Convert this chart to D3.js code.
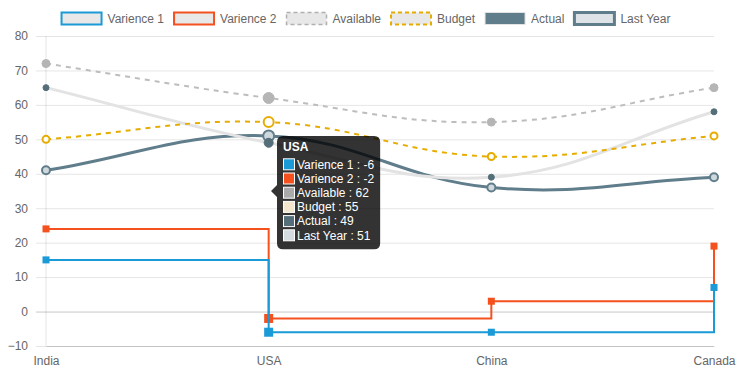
<!DOCTYPE html>
<html>
<head>
<meta charset="utf-8">
<script src="https://cdn.jsdelivr.net/npm/d3@7"></script>
<style>
  html, body { margin: 0; padding: 0; background: #fff; }
  svg { display: block; font-family: "Helvetica Neue", Helvetica, Arial, "Liberation Sans", sans-serif; }
</style>
</head>
<body>
<svg id="chart" width="742" height="374"></svg>
<script>
// ---------- data ----------
const categories = ["India", "USA", "China", "Canada"];
const varience1 = [15, -6, -6, 7];
const varience2 = [24, -2, 3, 19];
const available = [72, 62, 55, 65];
const budget = [50, 55, 45, 51];
const actual = [65, 49, 39, 58];
const lastYear = [41, 51, 36, 39];
const yTicks = [-10, 0, 10, 20, 30, 40, 50, 60, 70, 80];
const hoverIndex = 1; // USA

// ---------- series definitions (styles) ----------
const series = [
  { name: "Varience 1", values: varience1, line: "#1a9ad6", width: 2, step: true, point: "rect",
    pFill: "#1a9ad6", pStroke: "#1a9ad6", legFill: "#e8e8e8", legStroke: "#1a9ad6", legW: 2,
    tipFill: "#1a9ad6", tipStroke: "#ffffff" },
  { name: "Varience 2", values: varience2, line: "#f4511e", width: 2, step: true, point: "rect",
    pFill: "#f4511e", pStroke: "#f4511e", legFill: "#e8e8e8", legStroke: "#f4511e", legW: 2,
    tipFill: "#f4511e", tipStroke: "#ffffff" },
  { name: "Available", values: available, line: "#bdbdbd", width: 2, dash: "5,5", point: "circle", r: 4, rh: 5.5,
    pFill: "#b5b5b5", pStroke: "#b5b5b5", pW: 1, legFill: "#e8e8e8", legStroke: "#b0b0b0", legW: 1.5, legDash: "4,3",
    tipFill: "#aaaaaa", tipStroke: "#ffffff" },
  { name: "Budget", values: budget, line: "#e6ad00", width: 2, dash: "5,5", point: "circle", r: 3.5, rh: 5,
    pFill: "#ffffff", pStroke: "#e6ad00", pW: 2, legFill: "#e8e8e8", legStroke: "#e6ad00", legW: 2, legDash: "4,3",
    tipFill: "#f2e6cc", tipStroke: "#ffffff" },
  { name: "Actual", values: actual, line: "#e3e3e3", width: 3, point: "circle", r: 3, rh: 4.5,
    pFill: "#546e7a", pStroke: "#546e7a", pW: 1, legFill: "#607d8b", legStroke: "#e3e3e3", legW: 1,
    tipFill: "#546e7a", tipStroke: "#ffffff" },
  { name: "Last Year", values: lastYear, line: "#607d8b", width: 3, point: "circle", r: 4, rh: 5.5,
    pFill: "#cfd8dc", pStroke: "#607d8b", pW: 2, legFill: "#dde3e7", legStroke: "#607d8b", legW: 3,
    tipFill: "#d5dce0", tipStroke: "#ffffff" }
];

// ---------- layout ----------
const svg = d3.select("#chart");
const W = 742, H = 374;
const pL = 46, pR = 714, pT = 36, pB = 346;

const x = d3.scalePoint().domain(categories).range([pL, pR]);
const y = d3.scaleLinear().domain([-10, 80]).range([pB, pT]);

// ---------- y grid + labels ----------
const yAxis = svg.append("g")
  .attr("transform", `translate(${pL - 10},0)`)
  .call(d3.axisLeft(y).tickValues(yTicks).tickSize(-(pR - pL + 10)).tickPadding(8).tickFormat(d3.format("d")));
yAxis.select(".domain").remove();
yAxis.selectAll(".tick line").attr("stroke", d => d === 0 ? "rgba(0,0,0,0.22)" : "rgba(0,0,0,0.1)").attr("stroke-width", 1);
yAxis.selectAll(".tick text").attr("fill", "#666").attr("font-size", 12);

// y axis border line
svg.append("line").attr("x1", pL).attr("x2", pL).attr("y1", pT).attr("y2", pB)
  .attr("stroke", "rgba(0,0,0,0.1)");

// ---------- x axis ----------
const xAxis = svg.append("g")
  .attr("transform", `translate(0,${pB})`)
  .call(d3.axisBottom(x).tickSize(0).tickSizeOuter(0).tickPadding(10));
xAxis.select(".domain").attr("stroke", "rgba(0,0,0,0.15)");
xAxis.selectAll(".tick text").attr("fill", "#666").attr("font-size", 12);

// ---------- Chart.js-like spline curve ----------
function chartjsCurve(t) {
  return function(context) {
    let pts = [];
    return {
      areaStart() {}, areaEnd() {},
      lineStart() { pts = []; },
      point(px, py) { pts.push([+px, +py]); },
      lineEnd() {
        const n = pts.length;
        if (!n) return;
        const cps = pts.map((p, i) => {
          const prev = pts[Math.max(0, i - 1)], next = pts[Math.min(n - 1, i + 1)];
          const d01 = Math.hypot(p[0] - prev[0], p[1] - prev[1]);
          const d12 = Math.hypot(next[0] - p[0], next[1] - p[1]);
          let s01 = d01 / (d01 + d12), s12 = d12 / (d01 + d12);
          if (isNaN(s01)) s01 = 0; if (isNaN(s12)) s12 = 0;
          const fa = t * s01, fb = t * s12;
          return {
            prev: [p[0] - fa * (next[0] - prev[0]), p[1] - fa * (next[1] - prev[1])],
            next: [p[0] + fb * (next[0] - prev[0]), p[1] + fb * (next[1] - prev[1])]
          };
        });
        context.moveTo(pts[0][0], pts[0][1]);
        for (let i = 1; i < n; i++) {
          context.bezierCurveTo(cps[i - 1].next[0], cps[i - 1].next[1], cps[i].prev[0], cps[i].prev[1], pts[i][0], pts[i][1]);
        }
      }
    };
  };
}

// ---------- draw datasets (last first, so first is on top) ----------
const plot = svg.append("g");
series.slice().reverse().forEach(s => {
  const line = d3.line()
    .x((d, i) => x(categories[i]))
    .y(d => y(d))
    .curve(s.step ? d3.curveStepAfter : chartjsCurve(0.4));
  plot.append("path")
    .datum(s.values)
    .attr("d", line)
    .attr("fill", "none")
    .attr("stroke", s.line)
    .attr("stroke-width", s.width)
    .attr("stroke-dasharray", s.dash || null);

  const g = plot.append("g");
  s.values.forEach((v, i) => {
    const cx = x(categories[i]), cy = y(v);
    const hov = i === hoverIndex;
    if (s.point === "rect") {
      const size = hov ? 9 : 7;
      g.append("rect").attr("x", cx - size / 2).attr("y", cy - size / 2)
        .attr("width", size).attr("height", size).attr("fill", s.pFill);
    } else {
      g.append("circle").attr("cx", cx).attr("cy", cy).attr("r", hov ? s.rh : s.r)
        .attr("fill", s.pFill).attr("stroke", s.pStroke).attr("stroke-width", s.pW);
    }
  });
});

// ---------- legend ----------
const legend = svg.append("g").attr("font-size", 12).attr("fill", "#666");
const tmp = svg.append("text").attr("font-size", 12);
const widths = series.map(s => { tmp.text(s.name); return tmp.node().getComputedTextLength(); });
tmp.remove();
const total = d3.sum(widths, w => 40 + 6 + w + 10);
let lx = (W - total) / 2;
series.forEach((s, i) => {
  legend.append("rect").attr("x", lx).attr("y", 12.5).attr("width", 40).attr("height", 12)
    .attr("fill", s.legFill).attr("stroke", s.legStroke).attr("stroke-width", s.legW)
    .attr("stroke-dasharray", s.legDash || null);
  legend.append("text").attr("x", lx + 46).attr("y", 19).attr("dy", "0.35em").attr("fill", "#666").text(s.name);
  lx += 40 + 6 + widths[i] + 10;
});

// ---------- tooltip ----------
const tip = svg.append("g");
const tipLines = series.map(s => `${s.name} : ${s.values[hoverIndex]}`);
const tmp2 = svg.append("text").attr("font-size", 12);
const tw = d3.max(tipLines, t => { tmp2.text(t); return tmp2.node().getComputedTextLength(); });
tmp2.remove();
const tx = 277, ty = 136, rowH = 14.2;
const bw = 6 + 12 + 2 + tw + 6;
const bh = 6 + 12 + 6 + rowH * 6 + 4;
const caretY = 191;
tip.append("path")
  .attr("d", `M${tx + 6},${ty} H${tx + bw - 6} Q${tx + bw},${ty} ${tx + bw},${ty + 6} V${ty + bh - 6} Q${tx + bw},${ty + bh} ${tx + bw - 6},${ty + bh} H${tx + 6} Q${tx},${ty + bh} ${tx},${ty + bh - 6} V${caretY + 6} L${tx - 6},${caretY} L${tx},${caretY - 6} V${ty + 6} Q${tx},${ty} ${tx + 6},${ty} Z`)
  .attr("fill", "rgba(0,0,0,0.8)");
tip.append("text").attr("x", tx + 6).attr("y", ty + 11).attr("dy", "0.35em")
  .attr("fill", "#fff").attr("font-size", 12).attr("font-weight", "bold").text(categories[hoverIndex]);
series.forEach((s, i) => {
  const cy = 164.3 + rowH * i;
  tip.append("rect").attr("x", tx + 6.5).attr("y", cy - 5.5).attr("width", 11).attr("height", 11)
    .attr("fill", s.tipFill).attr("stroke", s.tipStroke).attr("stroke-width", 1);
  tip.append("text").attr("x", tx + 20).attr("y", cy).attr("dy", "0.35em")
    .attr("fill", "#fff").attr("font-size", 12).text(tipLines[i]);
});
</script>
</body>
</html>
